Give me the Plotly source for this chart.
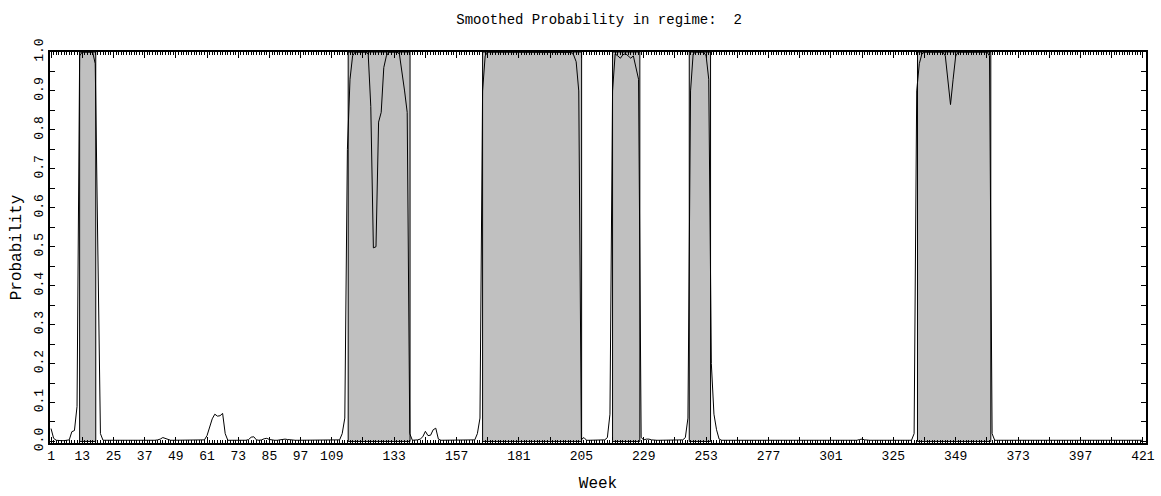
import plotly.graph_objects as go

# Semaines 1..421 et probabilité lissée du régime 2
weeks = list(range(1, 422))
prob = [
    .033, .008, .003, .002, .002, .002, .003, .004, .025, .028,   # 1-10
    .09, .99, 1.0, 1.0, 1.0, 1.0, 1.0, .97, .45, .02,             # 11-20
    .003, .003, .003, .003, .003, .002, .003, .003, .003, .003,   # 21-30
    .003, .002, .003, .003, .003, .003, .003, .003, .003, .003,   # 31-40
    .003, .004, .006, .010, .008, .004, .003, .003, .003, .003,   # 41-50
    .003, .003, .003, .003, .003, .003, .003, .003, .003, .004,   # 51-60
    .015, .040, .058, .070, .065, .066, .072, .020, .003, .003,   # 61-70
    .003, .003, .003, .003, .003, .003, .005, .011, .012, .004,   # 71-80
    .003, .004, .007, .008, .005, .003, .003, .003, .004, .006,   # 81-90
    .006, .005, .004, .003, .003, .003, .003, .003, .003, .003,   # 91-100
    .003, .003, .003, .003, .003, .003, .003, .003, .003, .003,   # 101-110
    .003, .004, .020, .060, .75, .93, .99, 1.0, 1.0, 1.0,         # 111-120
    1.0, 1.0, .995, .86, .497, .50, .82, .845, .96, .99,          # 121-130
    1.0, 1.0, 1.0, 1.0, .995, .95, .90, .845, .020, .003,         # 131-140
    .003, .004, .006, .012, .026, .015, .016, .030, .034, .006,   # 141-150
    .003, .003, .003, .003, .003, .003, .003, .003, .003, .003,   # 151-160
    .003, .003, .003, .004, .020, .060, .90, .99, 1.0, 1.0,       # 161-170
    1.0, 1.0, 1.0, 1.0, 1.0, 1.0, 1.0, 1.0, 1.0, 1.0,             # 171-180
    1.0, 1.0, 1.0, 1.0, 1.0, 1.0, 1.0, 1.0, 1.0, 1.0,             # 181-190
    1.0, 1.0, 1.0, 1.0, 1.0, 1.0, 1.0, 1.0, 1.0, 1.0,             # 191-200
    .999, .993, .975, .90, .005, .010, .003, .003, .003, .003,    # 201-210
    .003, .003, .003, .004, .010, .070, .90, .995, .99, .984,     # 211-220
    .993, .996, .99, .984, .99, .96, .93, .010, .004, .006,       # 221-230
    .006, .004, .003, .003, .003, .003, .003, .003, .003, .003,   # 231-240
    .003, .003, .003, .004, .010, .060, .90, .995, 1.0, 1.0,      # 241-250
    1.0, 1.0, .99, .93, .20, .070, .030, .006, .003, .003,        # 251-260
    .003, .003, .003, .003, .003, .003, .003, .003, .003, .003,   # 261-270
    .003, .003, .003, .003, .003, .003, .003, .003, .003, .003,   # 271-280
    .003, .003, .003, .003, .003, .003, .003, .003, .003, .003,   # 281-290
    .003, .003, .003, .003, .003, .003, .003, .003, .003, .003,   # 291-300
    .003, .003, .003, .003, .003, .003, .003, .003, .003, .003,   # 301-310
    .003, .005, .006, .004, .003, .003, .003, .003, .003, .003,   # 311-320
    .003, .003, .003, .003, .003, .003, .003, .003, .003, .003,   # 321-330
    .003, .003, .020, .90, .97, .995, 1.0, 1.0, 1.0, 1.0,         # 331-340
    1.0, 1.0, 1.0, 1.0, .99, .93, .865, .93, .99, 1.0,            # 341-350
    1.0, 1.0, 1.0, 1.0, 1.0, 1.0, 1.0, 1.0, 1.0, 1.0,             # 351-360
    1.0, .99, .020, .003, .003, .003, .003, .003, .003, .003,     # 361-370
    .003, .003, .003, .003, .003, .003, .003, .003, .003, .003,   # 371-380
    .003, .003, .003, .003, .003, .003, .003, .003, .003, .003,   # 381-390
    .003, .003, .003, .003, .003, .003, .003, .003, .003, .003,   # 391-400
    .003, .003, .003, .003, .003, .003, .003, .003, .003, .003,   # 401-410
    .003, .003, .003, .003, .003, .003, .003, .003, .003, .003,   # 411-420
    .003,                                                         # 421
]

# Périodes classées dans le régime 2 (bandes grises)
regime_start = [12, 115.3, 167, 217, 246.5, 334.3]
regime_end = [18.2, 139.1, 205.1, 227.5, 254.7, 362.5]

# Graduations principales toutes les 12 semaines, libellés affichés
week_ticks = list(range(1, 422, 12))
week_labels = [1, 13, 25, 37, 49, 61, 73, 85, 97, 109, 133, 157, 181, 205,
               229, 253, 277, 301, 325, 349, 373, 397, 421]

shade_x, shade_y = [], []
for a, b in zip(regime_start, regime_end):
    shade_x += [a, a, b, b, a, None]
    shade_y += [0, 1, 1, 0, 0, None]

fig = go.Figure()
fig.add_trace(go.Scatter(x=shade_x, y=shade_y, mode='lines', fill='toself',
                         fillcolor='#c0c0c0', line=dict(color='black', width=1),
                         hoverinfo='skip'))
fig.add_trace(go.Scatter(x=weeks, y=prob, mode='lines',
                         line=dict(color='black', width=1)))

font = 'Liberation Mono'
fig.update_layout(
    width=1161, height=496,
    margin=dict(l=50, r=15, t=52, b=53),
    paper_bgcolor='white', plot_bgcolor='white',
    showlegend=False,
    font=dict(family=font, size=13, color='black'),
    title=dict(text='Smoothed Probability in regime:  2', x=0.5160, xanchor='center',
               y=1 - 19 / 496, yanchor='middle', font=dict(family=font, size=14)),
)
fig.update_xaxes(
    range=[0.6, 422.2], tickvals=week_ticks,
    ticktext=[str(w) if w in week_labels else '' for w in week_ticks],
    ticks='inside', ticklen=6, automargin=False,
    tickcolor='black', showline=True, linecolor='black', linewidth=1.5,
    mirror='allticks', showgrid=False, zeroline=False,
    minor=dict(dtick=1, tick0=1, ticks='inside', ticklen=3, tickcolor='black'),
    title=dict(text='Week', standoff=13),
)
fig.update_yaxes(
    range=[-0.004, 1.0], tick0=0, dtick=0.1, tickformat='.1f', tickangle=-90,
    ticks='inside', ticklen=5, tickcolor='black', showline=True,
    linecolor='black', linewidth=1.5, mirror='allticks', showgrid=False,
    zeroline=False, automargin=False,
    minor=dict(dtick=0.05, ticks='inside', ticklen=5, tickcolor='black'),
    title=dict(text='Probability', standoff=6),
)

fig.write_html("out.html", config={'displayModeBar': False},
               post_script="document.body.style.margin='0';")
